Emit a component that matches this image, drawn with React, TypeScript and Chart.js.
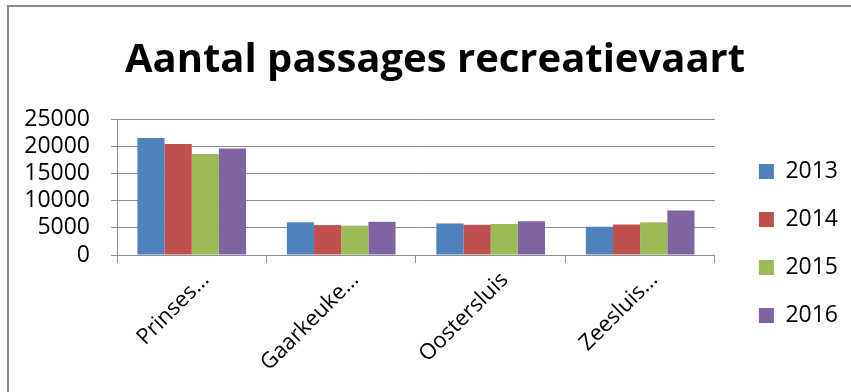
import React, { useEffect, useRef } from "react";
import { Chart, registerables } from "chart.js";

Chart.register(...registerables);

const categories = ["Prinses...", "Gaarkeuke...", "Oostersluis", "Zeesluis..."];
const years = ["2013", "2014", "2015", "2016"];
const values2013 = [21500, 6000, 5800, 5200];
const values2014 = [20400, 5500, 5550, 5600];
const values2015 = [18550, 5400, 5700, 6000];
const values2016 = [19600, 6100, 6200, 8200];
const colors = ["#4F81BD", "#C0504D", "#9BBB59", "#8064A2"];
const yTicks = [0, 5000, 10000, 15000, 20000, 25000];

const FONT = "'Open Sans', 'DejaVu Sans', sans-serif";

export default function App() {
  const ref = useRef<HTMLCanvasElement | null>(null);

  useEffect(() => {
    const canvas = ref.current;
    if (!canvas) return;
    const series = [values2013, values2014, values2015, values2016];
    const chart = new Chart(canvas, {
      type: "bar",
      data: {
        labels: categories,
        datasets: years.map((y, i) => ({
          label: y,
          data: series[i],
          backgroundColor: colors[i],
          borderWidth: 0,
          categoryPercentage: 0.727,
          barPercentage: 1,
        })),
      },
      options: {
        animation: false,
        responsive: false,
        devicePixelRatio: 1,
        layout: { padding: { left: 22, right: 3, top: 0, bottom: 0 } },
        plugins: {
          title: {
            display: true,
            text: "Aantal passages recreatievaart",
            color: "#000",
            font: { family: FONT, size: 40, weight: "bold", lineHeight: 1.2 },
            padding: { top: 37, bottom: 34 },
          },
          legend: {
            position: "right",
            title: { display: true, text: " ", font: { size: 10, lineHeight: 1.2 }, padding: { top: 83, bottom: 0 } },
            labels: {
              boxWidth: 15,
              boxHeight: 15,
              padding: 25,
              color: "#000",
              font: { family: FONT, size: 23 },
            },
          },
          tooltip: { enabled: false },
        },
        scales: {
          x: {
            grid: {
              display: true,
              drawOnChartArea: false,
              drawTicks: true,
              tickLength: 8,
              color: "#8c8c8c",
              offset: true,
            },
            border: { display: true, color: "#8c8c8c", width: 1 },
            ticks: {
              color: "#000",
              font: { family: FONT, size: 22 },
              maxRotation: 45,
              minRotation: 45,
              padding: 4,
              labelOffset: 14,
              autoSkip: false,
            },
            afterFit: (s: any) => {
              s.height = 137;
            },
          },
          y: {
            min: 0,
            max: 25000,
            afterBuildTicks: (s: any) => {
              s.ticks = yTicks.map((v) => ({ value: v }));
            },
            grid: { color: "#8c8c8c", tickLength: 6, lineWidth: 1 },
            border: { display: true, color: "#8c8c8c", width: 1 },
            ticks: {
              color: "#000",
              font: { family: FONT, size: 23, lineHeight: 1 },
              padding: 21,
              autoSkip: false,
              callback: (v: any) => String(v),
            },
            afterFit: (s: any) => {
              s.width = 95;
            },
          },
          y2: {
            type: "linear",
            position: "right",
            display: true,
            grid: { display: false, drawTicks: false },
            border: { display: false },
            ticks: { display: false },
            afterFit: (s: any) => {
              s.width = 19;
            },
          },
        },
      },
    } as any);
    return () => chart.destroy();
  }, []);

  return (
    <div
      style={{
        position: "fixed",
        left: 0,
        top: 0,
        width: 851,
        height: 392,
        overflow: "hidden",
        background: "#fff",
      }}
    >
      <div
        style={{
          position: "absolute",
          left: 7,
          top: 5,
          width: 900,
          height: 450,
          borderTop: "2px solid #8a8a8a",
          borderLeft: "2px solid #8a8a8a",
        }}
      />
      <canvas
        ref={ref}
        width={851}
        height={392}
        style={{ position: "absolute", left: 0, top: 0, width: 851, height: 392 }}
      />
    </div>
  );
}
